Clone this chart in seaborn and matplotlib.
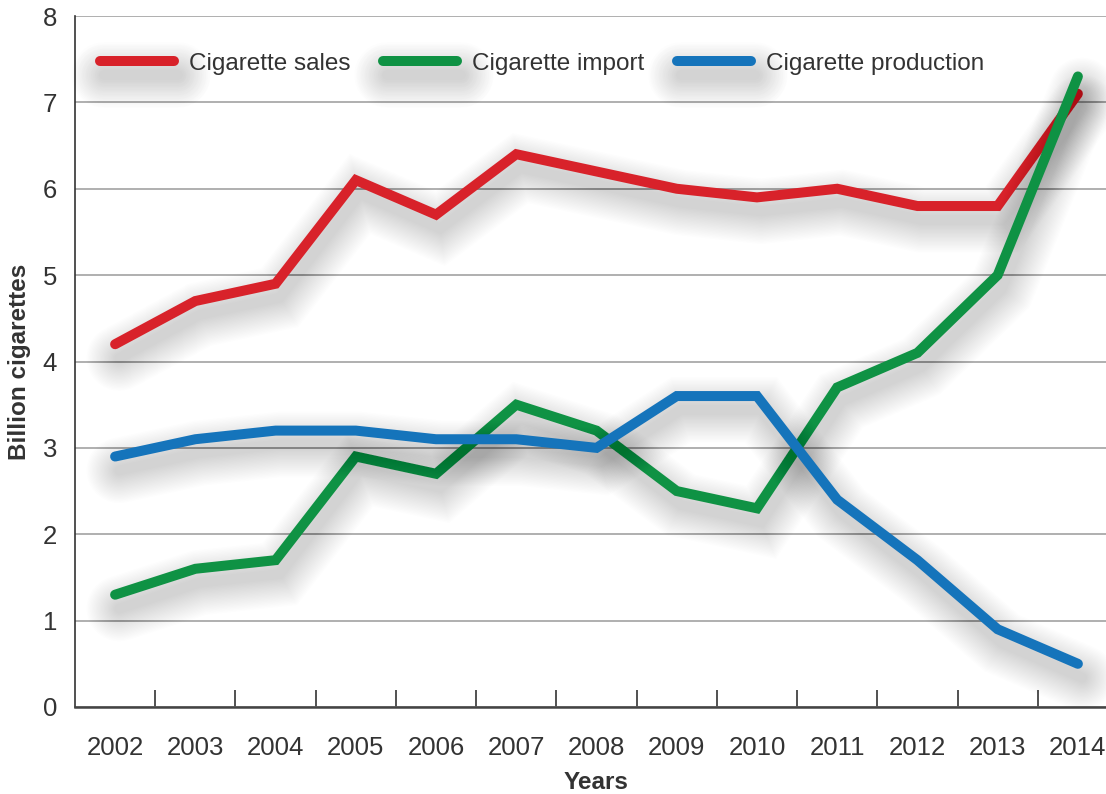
import matplotlib
matplotlib.use("Agg")
import matplotlib.pyplot as plt
import matplotlib.patheffects as pe
from matplotlib.lines import Line2D
from matplotlib.ticker import FixedLocator
import seaborn as sns
import pandas as pd
import numpy as np

years = ["2002", "2003", "2004", "2005", "2006", "2007", "2008",
         "2009", "2010", "2011", "2012", "2013", "2014"]
sales = [4.2, 4.7, 4.9, 6.1, 5.7, 6.4, 6.2, 6.0, 5.9, 6.0, 5.8, 5.8, 7.1]
imports = [1.3, 1.6, 1.7, 2.9, 2.7, 3.5, 3.2, 2.5, 2.3, 3.7, 4.1, 5.0, 7.3]
production = [2.9, 3.1, 3.2, 3.2, 3.1, 3.1, 3.0, 3.6, 3.6, 2.4, 1.7, 0.9, 0.5]
series_names = ["Cigarette sales", "Cigarette import", "Cigarette production"]
colors = ["#d8222a", "#0f9244", "#1574bb"]

sns.set_theme(style="white")
plt.rcParams["font.family"] = ["Liberation Sans", "DejaVu Sans"]
text_color = "#333333"

df = pd.DataFrame({
    "year": years * 3,
    "x": list(range(len(years))) * 3,
    "value": sales + imports + production,
    "series": [series_names[0]] * len(years) + [series_names[1]] * len(years)
              + [series_names[2]] * len(years),
})

fig = plt.figure(figsize=(11.06, 7.94), dpi=100)
ax = fig.add_axes([75 / 1106, 1 - 707 / 794, 1043 / 1106, 691 / 794])

lw = 7.2
# soft drop shadow built from many stacked translucent strokes
shadow = [pe.SimpleLineShadow(offset=(3, -10), shadow_color="black",
                              alpha=0.0085, linewidth=lw + w)
          for w in np.linspace(40, 0, 22)]
effects = shadow + [pe.Normal()]

sns.lineplot(data=df, x="x", y="value", hue="series", hue_order=series_names,
             palette=colors, linewidth=lw, ax=ax, legend=False,
             solid_capstyle="round", solid_joinstyle="miter")
for line in ax.lines:
    line.set_path_effects(effects)
    line.set_solid_capstyle("round")

ax.set_xlim(-0.5, len(years) - 0.5)
ax.set_ylim(0, 8)
ax.set_yticks(range(0, 9))
ax.set_xticks(range(len(years)))
ax.set_xticklabels(years)
ax.xaxis.set_minor_locator(FixedLocator(np.arange(0.5, len(years) - 1, 1.0)))
ax.tick_params(axis="x", which="major", length=0, pad=21, labelsize=18.5,
               labelcolor=text_color)
ax.tick_params(axis="x", which="minor", direction="in", length=12,
               width=1.2, color="#333333", bottom=True)
ax.tick_params(axis="y", length=0, pad=13, labelsize=18.5, labelcolor=text_color)

ax.yaxis.grid(True, color="#9a9a9a", linewidth=1.1)
ax.set_axisbelow(True)
for side in ("top", "right"):
    ax.spines[side].set_visible(False)
ax.spines["left"].set_color("#333333")
ax.spines["left"].set_linewidth(1.2)
ax.spines["bottom"].set_color("#444444")
ax.spines["bottom"].set_linewidth(1.8)

ax.set_xlabel("Years", fontsize=17.5, fontweight="bold", color=text_color, labelpad=7.5)
ax.set_ylabel("Billion cigarettes", fontsize=17.5, fontweight="bold",
              color=text_color, labelpad=8)

handles = [Line2D([0], [0], color=c, linewidth=lw, solid_capstyle="round",
                  path_effects=effects) for c in colors]
leg = ax.legend(handles, series_names, loc="center left",
                bbox_to_anchor=(0.024, 0.931), ncol=3, frameon=False,
                fontsize=17.5, handlelength=3.05, handletextpad=0.6,
                columnspacing=1.35, borderaxespad=0, borderpad=0)
for t in leg.get_texts():
    t.set_color(text_color)

fig.savefig("out.png", dpi=100)
